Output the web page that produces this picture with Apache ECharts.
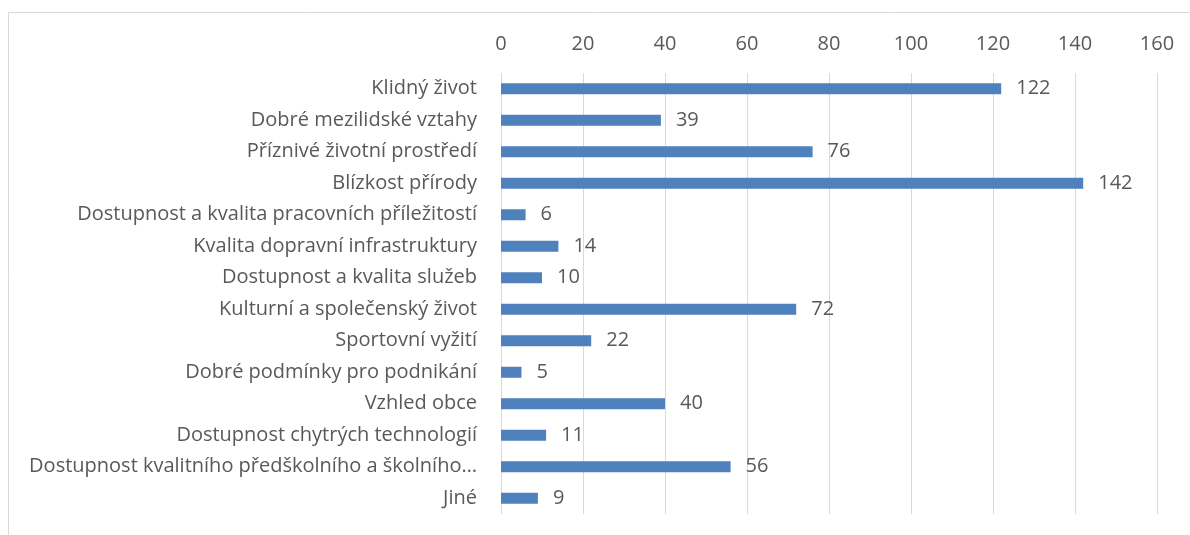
<!DOCTYPE html>
<html>
<head>
<meta charset="utf-8">
<script src="https://cdn.jsdelivr.net/npm/echarts@6/dist/echarts.min.js"></script>
<style>
  html, body { margin: 0; padding: 0; background: #fff; }
  #main { width: 1190px; height: 535px; }
</style>
</head>
<body>
<div id="main"></div>
<script>
var categories = [
	'Klidný život',
	'Dobré mezilidské vztahy',
	'Příznivé životní prostředí',
	'Blízkost přírody',
	'Dostupnost a kvalita pracovních příležitostí',
	'Kvalita dopravní infrastruktury',
	'Dostupnost a kvalita služeb',
	'Kulturní a společenský život',
	'Sportovní vyžití',
	'Dobré podmínky pro podnikání',
	'Vzhled obce',
	'Dostupnost chytrých technologií',
	'Dostupnost kvalitního předškolního a školního…',
	'Jiné'
];
var values = [122, 39, 76, 142, 6, 14, 10, 72, 22, 5, 40, 11, 56, 9];
var axisMin = 0;
var axisMax = 160;
var axisStep = 20;

var myChart = echarts.init(document.getElementById('main'));

var textColor = '#595959';
var fontName = '"Open Sans", sans-serif';

var option = {
	backgroundColor: '#fff',
	animation: false,
	graphic: [{
		type: 'rect',
		shape: { x: 8.5, y: 12.5, width: 1250, height: 600 },
		style: { fill: 'none', stroke: '#d9d9d9', lineWidth: 1 },
		silent: true
	}],
	grid: {
		left: 501,
		right: 33,
		top: 73,
		bottom: 21
	},
	xAxis: {
		type: 'value',
		position: 'top',
		min: axisMin,
		max: axisMax,
		interval: axisStep,
		axisLine: { show: false },
		axisTick: { show: false },
		axisLabel: {
			color: textColor,
			fontSize: 20,
			fontFamily: fontName,
			margin: 19
		},
		splitLine: {
			show: true,
			lineStyle: { color: '#d9d9d9', width: 1 }
		}
	},
	yAxis: {
		type: 'category',
		inverse: true,
		data: categories,
		axisLine: { show: false },
		axisTick: { show: false },
		axisLabel: {
			color: textColor,
			fontSize: 20,
			fontFamily: fontName,
			margin: 24
		}
	},
	series: [{
		type: 'bar',
		data: values,
		barWidth: 11,
		itemStyle: { color: '#4f81bd' },
		label: {
			show: true,
			position: 'right',
			distance: 15,
			color: textColor,
			fontSize: 20,
			fontFamily: fontName
		}
	}]
};

myChart.setOption(option);
</script>
</body>
</html>
